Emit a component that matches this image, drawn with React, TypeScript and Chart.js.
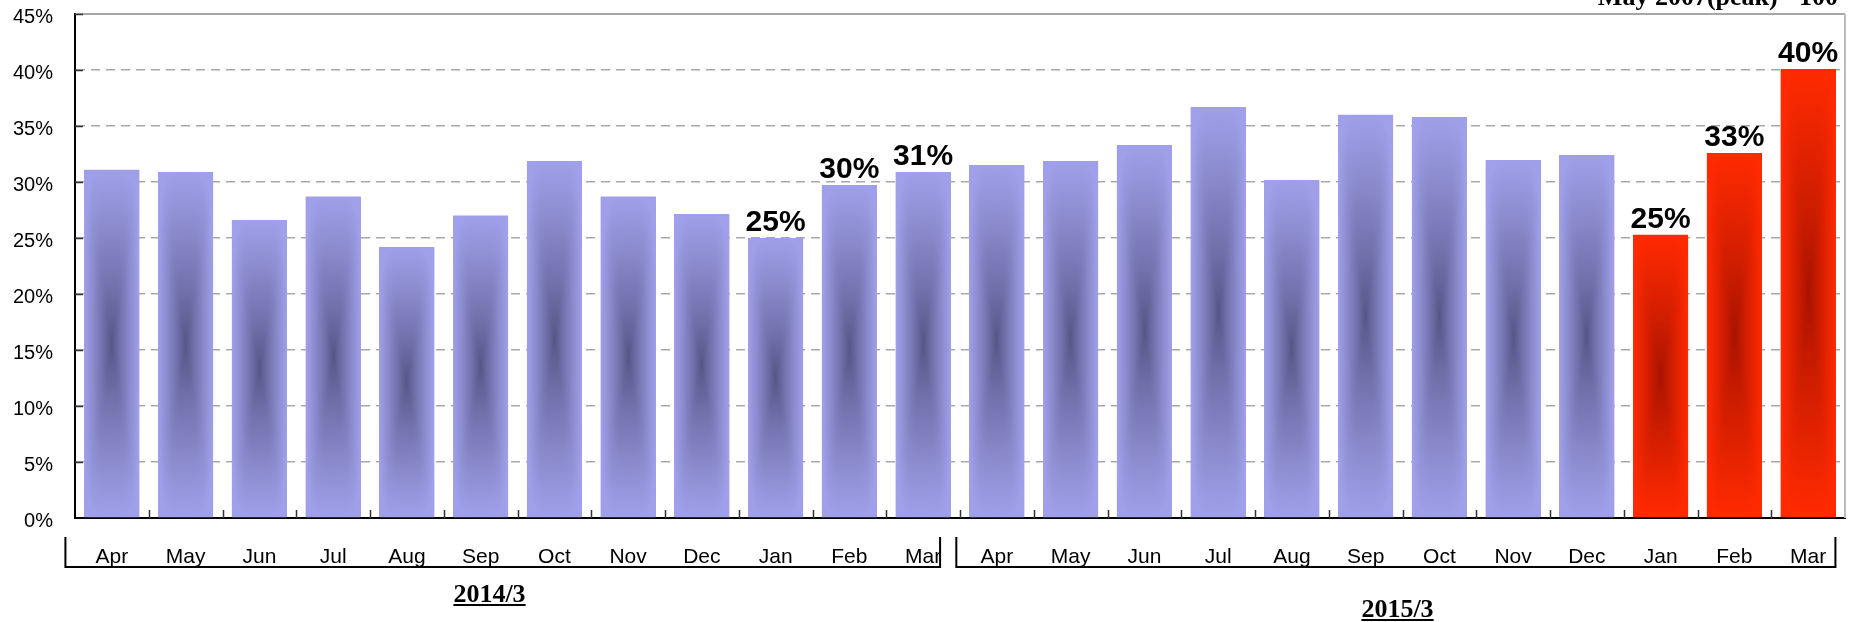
import React, { useEffect, useRef } from "react";
import { Chart, registerables } from "chart.js";

Chart.register(...registerables);

// ---- data ----
const months = [
  "Apr", "May", "Jun", "Jul", "Aug", "Sep", "Oct", "Nov", "Dec", "Jan", "Feb", "Mar",
  "Apr", "May", "Jun", "Jul", "Aug", "Sep", "Oct", "Nov", "Dec", "Jan", "Feb", "Mar",
];
const fiscalYears = ["2014/3", "2015/3"];
const values = [
  31.1, 30.9, 26.6, 28.7, 24.2, 27.0, 31.85, 28.7, 27.1, 25.0, 29.7, 30.9,
  31.5, 31.85, 33.3, 36.7, 30.15, 36.0, 35.8, 31.95, 32.4, 25.3, 32.6, 40.05,
];
const highlighted = [21, 22, 23];
const labelled = [9, 10, 11, 21, 22, 23];
const yMax = 45;
const yStep = 5;
const note = "May 2007(peak) =100";

// ---- styles ----
const BLUE_EDGE = [160, 160, 234];
const BLUE_CENTER = [84, 84, 134];
const RED_EDGE = [255, 42, 0];
const RED_CENTER = [166, 18, 0];
const SANS = '"Liberation Sans", Arial, sans-serif';
const SERIF = '"Liberation Serif", "Times New Roman", serif';

const rgb = (c: number[]) => `rgb(${c[0]},${c[1]},${c[2]})`;

const paintPlugin = {
  id: "paintPlugin",
  afterDatasetDraw(chart: any, args: any) {
    const ctx = chart.ctx as CanvasRenderingContext2D;
    const meta = args.meta;
    meta.data.forEach((bar: any, i: number) => {
      const p = bar.getProps(["x", "y", "base", "width"], true);
      const left = Math.round(p.x - p.width / 2);
      const right = Math.round(p.x + p.width / 2);
      const top = Math.round(Math.min(p.y, p.base));
      const bottom = Math.round(Math.max(p.y, p.base));
      const w = right - left;
      const h = bottom - top;
      if (w <= 0 || h <= 0) return;
      const off = document.createElement("canvas");
      off.width = w;
      off.height = h;
      const octx = off.getContext("2d")!;
      const img = octx.createImageData(w, h);
      const hi = highlighted.includes(i);
      const edge = hi ? RED_EDGE : BLUE_EDGE;
      const center = hi ? RED_CENTER : BLUE_CENTER;
      const hw = w / 2;
      const hh = h / 2;
      const P = 5;
      for (let yy = 0; yy < h; yy++) {
        const dy = Math.abs(yy + 0.5 - hh) / hh;
        for (let xx = 0; xx < w; xx++) {
          const dx = Math.abs(xx + 0.5 - hw) / hw;
          const n = Math.pow(Math.pow(dx, P) + Math.pow(dy, P), 1 / P);
          const t = Math.pow(Math.min(1, n), 0.85);
          const k = (yy * w + xx) * 4;
          img.data[k] = center[0] + (edge[0] - center[0]) * t;
          img.data[k + 1] = center[1] + (edge[1] - center[1]) * t;
          img.data[k + 2] = center[2] + (edge[2] - center[2]) * t;
          img.data[k + 3] = 255;
        }
      }
      octx.putImageData(img, 0, 0);
      ctx.drawImage(off, left, top);
    });
  },
  afterDatasetsDraw(chart: any) {
    const ctx = chart.ctx as CanvasRenderingContext2D;
    const meta = chart.getDatasetMeta(0);
    ctx.save();
    ctx.font = `bold 30px ${SANS}`;
    ctx.fillStyle = "#000";
    ctx.textAlign = "center";
    ctx.textBaseline = "alphabetic";
    labelled.forEach((i) => {
      const bar = meta.data[i];
      if (!bar) return;
      ctx.fillText(`${Math.round(values[i])}%`, bar.x, bar.y - 7);
    });
    ctx.restore();
  },
  afterDraw(chart: any) {
    const ctx = chart.ctx as CanvasRenderingContext2D;
    const area = chart.chartArea;
    const xs = chart.scales.x;
    const ys = chart.scales.y;
    const cw = xs.getPixelForValue(1) - xs.getPixelForValue(0);
    ctx.save();
    // top and right frame
    ctx.strokeStyle = "#8a8a8a";
    ctx.lineWidth = 1.5;
    ctx.beginPath();
    ctx.moveTo(area.left, area.top);
    ctx.lineTo(area.right, area.top);
    ctx.stroke();
    ctx.strokeStyle = "#bdbdbd";
    ctx.lineWidth = 2;
    ctx.beginPath();
    ctx.moveTo(area.right, area.top);
    ctx.lineTo(area.right, area.bottom);
    ctx.stroke();
    // inner ticks on y axis
    ctx.strokeStyle = "#333";
    ctx.lineWidth = 1.5;
    ys.ticks.forEach((t: any) => {
      if (t.value === 0) return;
      const py = Math.round(ys.getPixelForValue(t.value)) + 0.5;
      ctx.beginPath();
      ctx.moveTo(area.left, py);
      ctx.lineTo(area.left + 8, py);
      ctx.stroke();
    });
    // inner ticks on x axis at category boundaries
    for (let i = 1; i < months.length; i++) {
      const px = Math.round(xs.getPixelForValue(i) - cw / 2) + 0.5;
      ctx.beginPath();
      ctx.moveTo(px, area.bottom);
      ctx.lineTo(px, area.bottom - 8);
      ctx.stroke();
    }
    // group brackets
    ctx.strokeStyle = "#000";
    ctx.lineWidth = 2;
    const by1 = area.bottom + 19;
    const by2 = area.bottom + 49;
    const brackets = [
      [xs.getPixelForValue(0) - cw * 0.63, xs.getPixelForValue(11) + cw * 0.23],
      [xs.getPixelForValue(12) - cw * 0.55, xs.getPixelForValue(23) + cw * 0.37],
    ];
    brackets.forEach(([a, b]) => {
      ctx.beginPath();
      ctx.moveTo(a, by1);
      ctx.lineTo(a, by2);
      ctx.lineTo(b, by2);
      ctx.lineTo(b, by1);
      ctx.stroke();
    });
    // group labels (underlined)
    ctx.font = `bold 26px ${SERIF}`;
    ctx.fillStyle = "#000";
    ctx.textAlign = "center";
    ctx.textBaseline = "alphabetic";
    const groupPos = [
      { cx: (xs.getPixelForValue(0) + xs.getPixelForValue(11)) / 2 - 28, base: area.bottom + 84 },
      { cx: (xs.getPixelForValue(12) + xs.getPixelForValue(23)) / 2 - 5, base: area.bottom + 99 },
    ];
    fiscalYears.forEach((label, gi) => {
      const { cx, base } = groupPos[gi];
      ctx.fillText(label, cx, base);
      const tw = ctx.measureText(label).width;
      ctx.lineWidth = 2;
      ctx.beginPath();
      ctx.moveTo(cx - tw / 2, base + 3);
      ctx.lineTo(cx + tw / 2, base + 3);
      ctx.stroke();
    });
    // note at top right
    ctx.textAlign = "right";
    ctx.fillText(note, area.right - 7, 5);
    ctx.restore();
  },
};

export default function App() {
  const ref = useRef<HTMLCanvasElement | null>(null);
  useEffect(() => {
    if (!ref.current) return;
    const chart = new Chart(ref.current, {
      type: "bar",
      data: {
        labels: months,
        datasets: [
          {
            data: values,
            backgroundColor: values.map((_, i) => rgb(highlighted.includes(i) ? RED_EDGE : BLUE_EDGE)),
            borderWidth: 0,
            categoryPercentage: 1,
            barPercentage: 0.746,
          },
        ],
      },
      options: {
        animation: false,
        responsive: false,
        devicePixelRatio: 1,
        layout: { padding: { top: 14, right: 11, left: 0, bottom: 0 } },
        plugins: { legend: { display: false }, tooltip: { enabled: false }, title: { display: false } },
        scales: {
          x: {
            grid: { display: false },
            border: { display: true, color: "#000", width: 2 },
            ticks: {
              autoSkip: false,
              maxRotation: 0,
              minRotation: 0,
              padding: 19,
              color: "#000",
              font: { family: SANS, size: 21 },
            },
            afterFit: (s: any) => {
              s.height = 104;
              s.paddingLeft = 0;
              s.paddingRight = 0;
            },
          },
          y: {
            min: 0,
            max: yMax,
            grid: {
              drawTicks: false,
              color: (c: any) => (c.tick && (c.tick.value === 0 || c.tick.value === yMax) ? "rgba(0,0,0,0)" : "#a8a8a8"),
              lineWidth: 1.5,
            },
            border: { display: true, color: "#000", width: 2, dash: [9, 6] },
            ticks: {
              stepSize: yStep,
              padding: 22,
              labelOffset: 3,
              color: "#000",
              font: { family: SANS, size: 20 },
              callback: (v: any) => `${v}%`,
            },
            afterFit: (s: any) => {
              s.width = 75;
              s.paddingTop = 0;
              s.paddingBottom = 0;
            },
          },
        },
      },
      plugins: [paintPlugin],
    });
    return () => chart.destroy();
  }, []);
  return (
    <div style={{ position: "absolute", left: 0, top: 0, width: 1856, height: 622, background: "#fff" }}>
      <canvas ref={ref} width={1856} height={622} style={{ display: "block" }} />
    </div>
  );
}
